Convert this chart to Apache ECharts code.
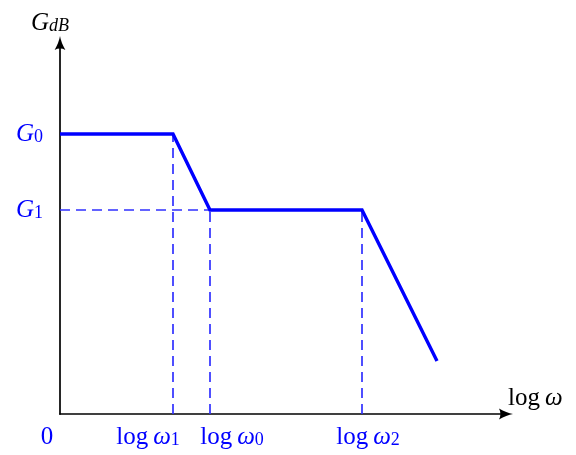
<!DOCTYPE html>
<html>
<head>
<meta charset="utf-8">
<script src="https://cdn.jsdelivr.net/npm/echarts@6/dist/echarts.min.js"></script>
<style>html,body{margin:0;padding:0;background:#fff}#c{width:576px;height:455px}</style>
</head>
<body>
<div id="c"></div>
<script>
// Asymptotic gain curve break points (abstract units)
const xBreaks = [0, 113, 150, 302, 377];
const gain = [280, 280, 204, 204, 53];
// Tick labels
const xTickValues = [0, 113, 150, 302];
const xTickSub = [null, '1', '0', '2'];
const xLabelShift = [-13, -25, 22, 6];
const yTickValues = [204, 280];
const yTickSub = ['1', '0'];

const BLUE = '#0000ff';
const DASH = '#3030ff';
const FONT = 'Liberation Serif';
const FS = 25;
const SFS = 18;

const rich = {
  r: {fontFamily: FONT, fontSize: FS, color: BLUE, lineHeight: 24},
  lg: {fontFamily: FONT, fontSize: FS, color: BLUE, lineHeight: 24, padding: [0, 5, 0, 0]},
  i: {fontFamily: FONT, fontSize: FS, fontStyle: 'italic', color: BLUE, lineHeight: 24},
  s: {fontFamily: FONT, fontSize: SFS, color: BLUE, lineHeight: 10, verticalAlign: 'bottom'}
};
xLabelShift.forEach((d, k) => {
  rich['sp' + k] = {fontFamily: FONT, fontSize: FS, width: Math.abs(d) * 2, lineHeight: 24};
});

function xLabel(value) {
  const k = xTickValues.indexOf(value);
  if (k < 0) return '';
  let t = xTickSub[k] === null ? '{r|0}' : '{lg|log}{i|ω}{s|' + xTickSub[k] + '}';
  const sp = '{sp' + k + '|\u00a0}';
  return xLabelShift[k] < 0 ? t + sp : sp + t;
}
function yLabel(value) {
  const k = yTickValues.indexOf(value);
  if (k < 0) return '';
  return '{i|G}{s|' + yTickSub[k] + '}';
}

const arrow = 'path://M5,0 Q6,6 10,13 Q5,10.3 0,13 Q4,6 5,0 Z';

const blackRich = {
  i: {fontFamily: FONT, fontSize: FS, fontStyle: 'italic', color: '#000', lineHeight: 24},
  lg: {fontFamily: FONT, fontSize: FS, color: '#000', lineHeight: 24, padding: [0, 5, 0, 0]},
  s: {fontFamily: FONT, fontSize: SFS, fontStyle: 'italic', color: '#000', lineHeight: 10, verticalAlign: 'bottom'}
};

const dashStyle = {color: DASH, width: 1.7, type: [10, 6]};
function guide(data) {
  return {type: 'line', data: data, symbol: 'none', silent: true, lineStyle: dashStyle, z: 2, animation: false};
}

const chart = echarts.init(document.getElementById('c'));
chart.setOption({
  animation: false,
  grid: {left: 60, top: 43, width: 446, height: 371},
  xAxis: {
    type: 'value', min: 0, max: 446,
    name: '{lg|log}{i|ω}', nameLocation: 'end', nameGap: 2,
    nameTextStyle: {rich: blackRich, padding: [0, 0, 31, 0]},
    axisLine: {show: true, lineStyle: {color: '#000', width: 1.7}, symbol: ['none', arrow], symbolSize: [12, 14]},
    axisTick: {show: false},
    splitLine: {show: false},
    axisLabel: {customValues: xTickValues, formatter: xLabel, rich: rich, margin: 11, color: BLUE}
  },
  yAxis: {
    type: 'value', min: 0, max: 371,
    name: '{i|G}{s|dB}', nameLocation: 'end', nameGap: 8,
    nameTextStyle: {rich: blackRich, padding: [0, 20, 0, 0]},
    axisLine: {show: true, lineStyle: {color: '#000', width: 1.7}, symbol: ['none', arrow], symbolSize: [12, 14]},
    axisTick: {show: false},
    splitLine: {show: false},
    axisLabel: {customValues: yTickValues, formatter: yLabel, rich: rich, margin: 17, color: BLUE}
  },
  series: [
    guide([[xBreaks[1], 0], [xBreaks[1], gain[1]]]),
    guide([[xBreaks[2], 0], [xBreaks[2], gain[2]]]),
    guide([[xBreaks[3], 0], [xBreaks[3], gain[3]]]),
    guide([[0, gain[2]], [xBreaks[2], gain[2]]]),
    {
      type: 'line', data: xBreaks.map((x, k) => [x, gain[k]]), symbol: 'none', z: 3,
      lineStyle: {color: BLUE, width: 3.4, join: 'miter'}
    }
  ]
});
</script>
</body>
</html>
